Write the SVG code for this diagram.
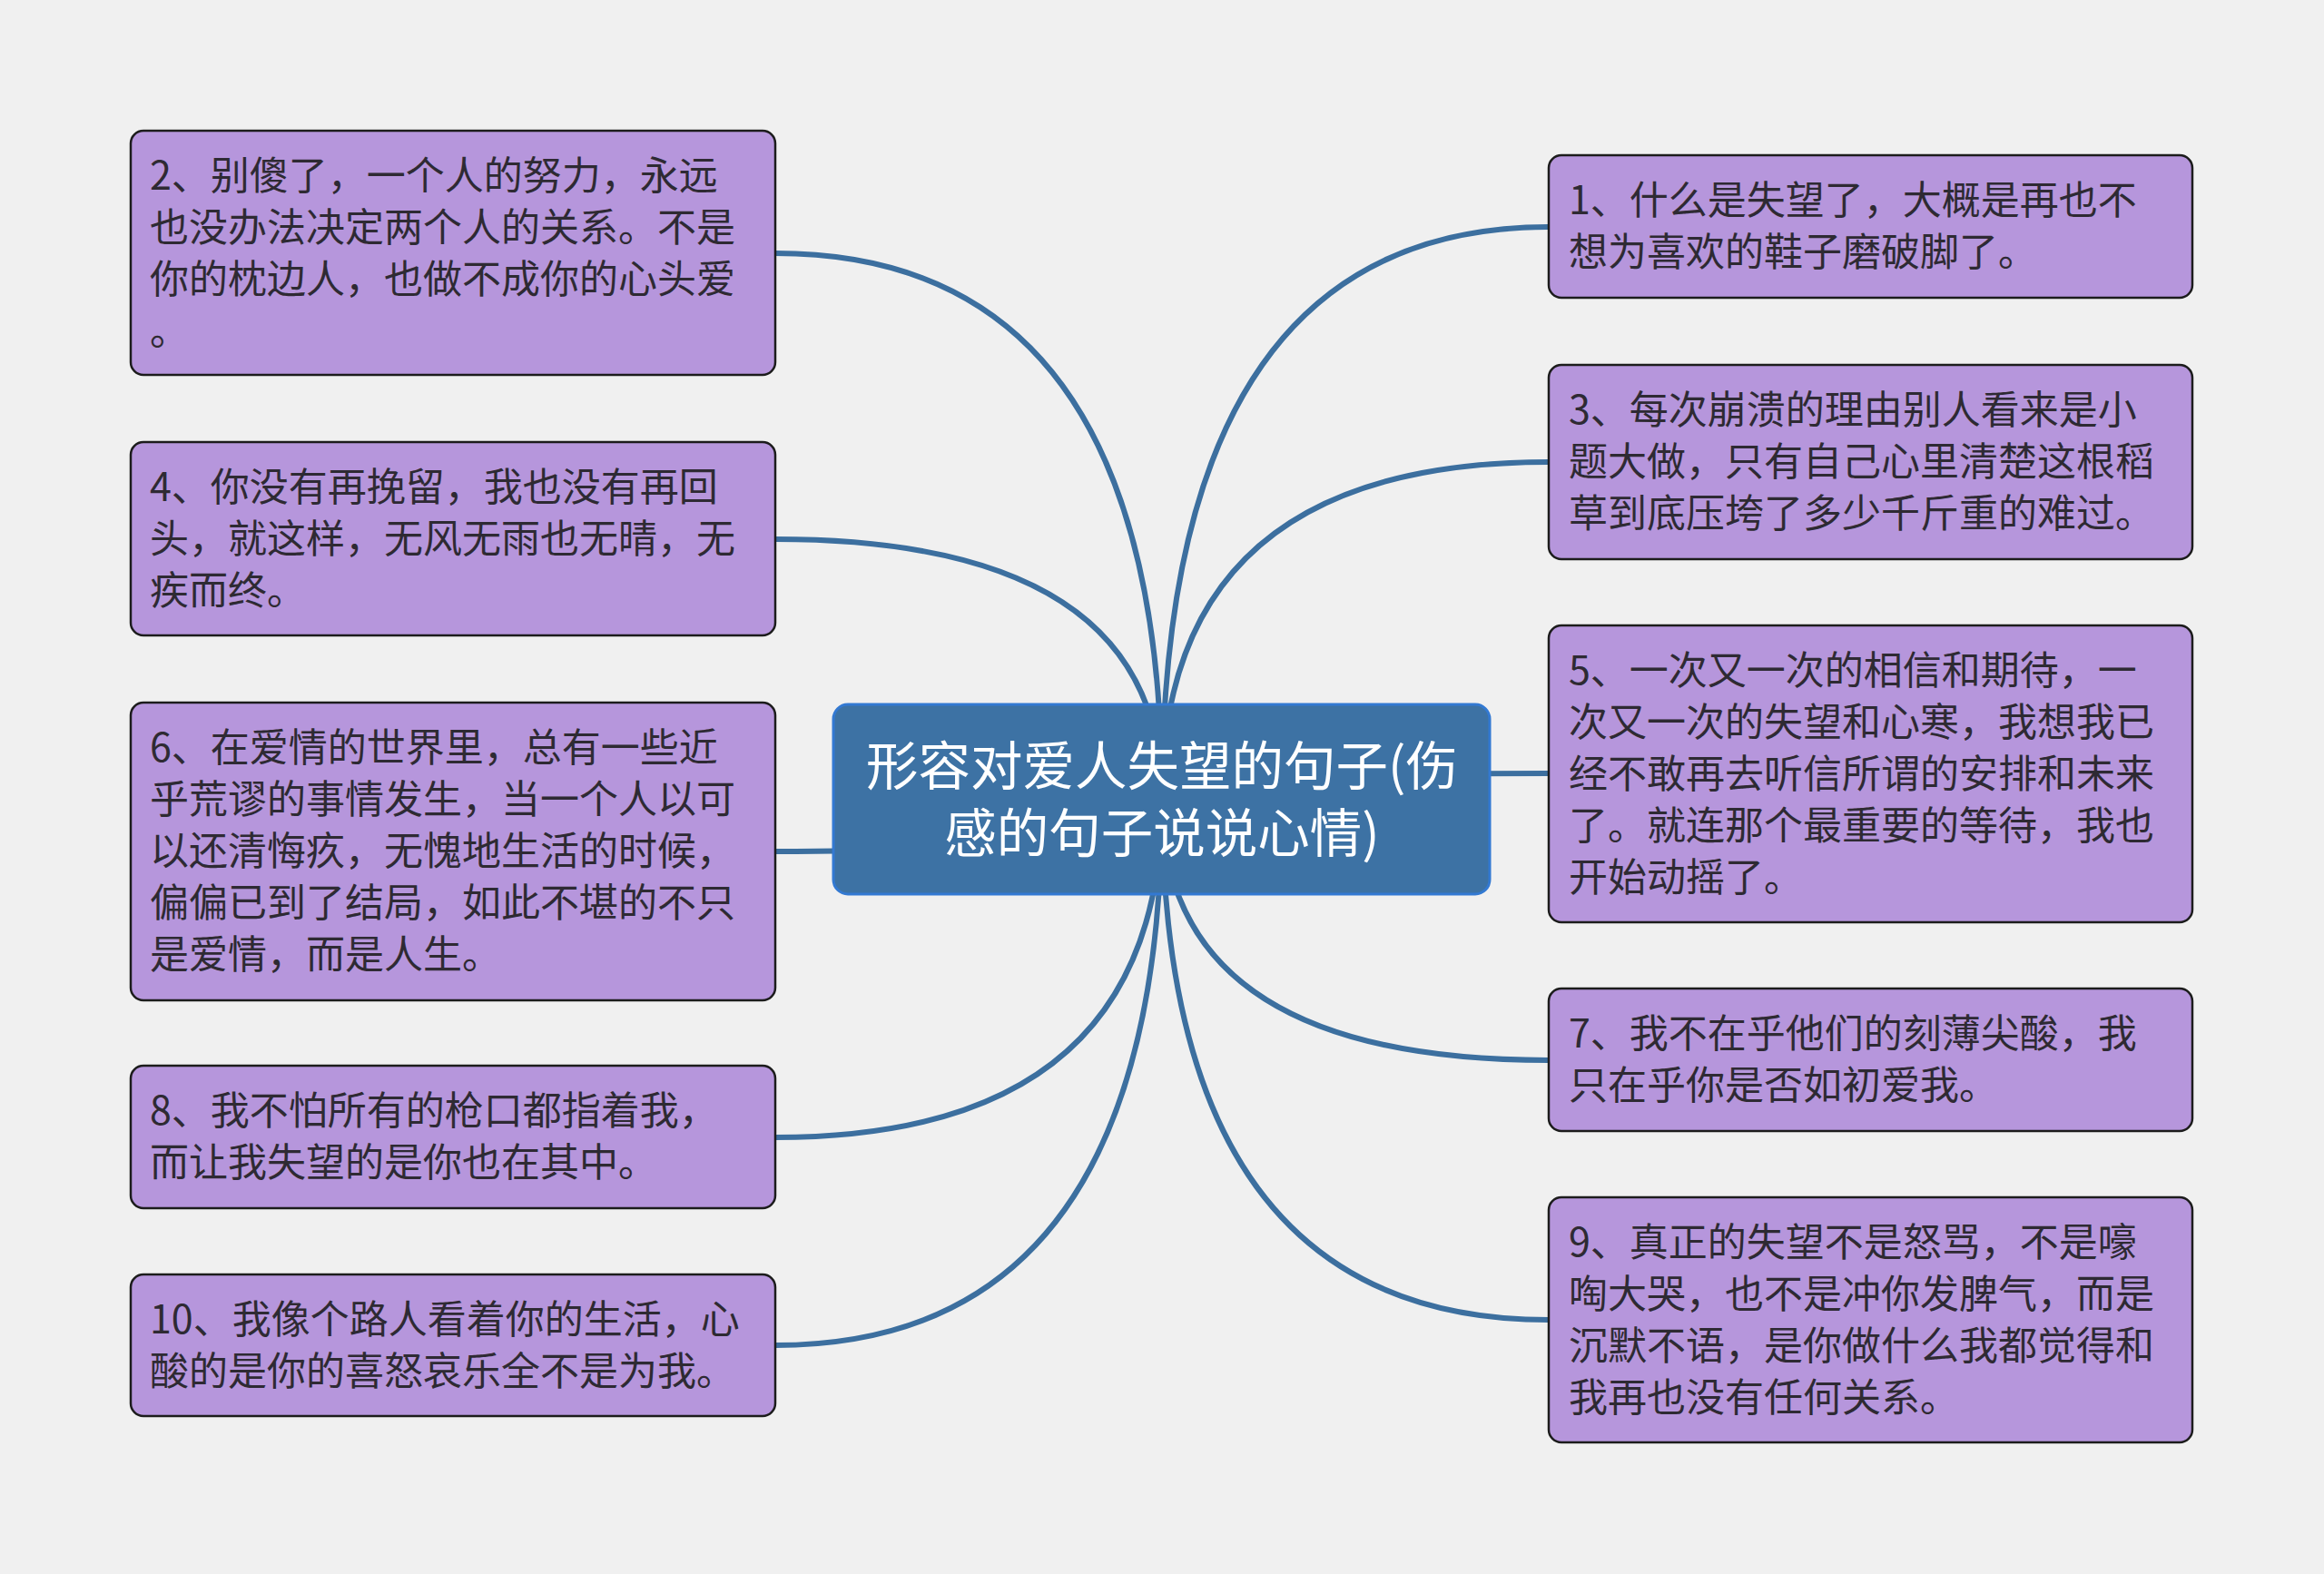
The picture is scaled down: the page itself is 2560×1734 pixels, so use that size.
<svg xmlns="http://www.w3.org/2000/svg" width="2560" height="1734" viewBox="0 0 2560 1734">
<style>
.bg{fill:#f0f0f0}
.node rect{fill:#b696dc;stroke:#1c1c1c;stroke-width:2.5}
.node text{font-family:"Noto Sans CJK SC","Noto Sans",sans-serif;font-size:43px;fill:#2e2a33}
.root rect{fill:#3d72a4;stroke:#3379d2;stroke-width:3}
.root text{font-family:"Noto Sans CJK SC","Noto Sans",sans-serif;font-size:57.5px;fill:#ffffff;text-anchor:middle}
.links path{fill:none;stroke:#3c6f9f;stroke-width:6}
</style>
<rect class="bg" x="0" y="0" width="2560" height="1734"/>
<g class="links">
<path d="M854 279 Q1280 279 1280 880"/>
<path d="M854 594 Q1280 594 1280 880"/>
<path d="M854 938 Q1280 938 1280 880"/>
<path d="M854 1253 Q1280 1253 1280 880"/>
<path d="M854 1482 Q1280 1482 1280 880"/>
<path d="M1706 250 Q1280 250 1280 880"/>
<path d="M1706 509 Q1280 509 1280 880"/>
<path d="M1706 852 Q1280 852 1280 880"/>
<path d="M1706 1168 Q1280 1168 1280 880"/>
<path d="M1706 1454 Q1280 1454 1280 880"/>
</g>
<g id="root" class="root">
<rect x="918" y="776" width="723" height="209" rx="16"/>
<text><tspan x="1280" y="865">形容对爱人失望的句子(伤</tspan><tspan x="1280" y="939">感的句子说说心情)</tspan></text>
</g>
<g id="n2" class="node">
<rect x="144" y="144" width="710" height="269" rx="14"/>
<text><tspan x="165" y="209">2、别傻了，一个人的努力，永远</tspan><tspan x="165" y="266">也没办法决定两个人的关系。不是</tspan><tspan x="165" y="323">你的枕边人，也做不成你的心头爱</tspan><tspan x="165" y="380">。</tspan></text>
</g>
<g id="n4" class="node">
<rect x="144" y="487" width="710" height="213" rx="14"/>
<text><tspan x="165" y="552">4、你没有再挽留，我也没有再回</tspan><tspan x="165" y="609">头，就这样，无风无雨也无晴，无</tspan><tspan x="165" y="666">疾而终。</tspan></text>
</g>
<g id="n6" class="node">
<rect x="144" y="774" width="710" height="328" rx="14"/>
<text><tspan x="165" y="839">6、在爱情的世界里，总有一些近</tspan><tspan x="165" y="896">乎荒谬的事情发生，当一个人以可</tspan><tspan x="165" y="953">以还清悔疚，无愧地生活的时候，</tspan><tspan x="165" y="1010">偏偏已到了结局，如此不堪的不只</tspan><tspan x="165" y="1067">是爱情，而是人生。</tspan></text>
</g>
<g id="n8" class="node">
<rect x="144" y="1174" width="710" height="157" rx="14"/>
<text><tspan x="165" y="1239">8、我不怕所有的枪口都指着我，</tspan><tspan x="165" y="1296">而让我失望的是你也在其中。</tspan></text>
</g>
<g id="n10" class="node">
<rect x="144" y="1404" width="710" height="156" rx="14"/>
<text><tspan x="165" y="1469">10、我像个路人看着你的生活，心</tspan><tspan x="165" y="1526">酸的是你的喜怒哀乐全不是为我。</tspan></text>
</g>
<g id="n1" class="node">
<rect x="1706" y="171" width="709" height="157" rx="14"/>
<text><tspan x="1728" y="236">1、什么是失望了，大概是再也不</tspan><tspan x="1728" y="293">想为喜欢的鞋子磨破脚了。</tspan></text>
</g>
<g id="n3" class="node">
<rect x="1706" y="402" width="709" height="214" rx="14"/>
<text><tspan x="1728" y="467">3、每次崩溃的理由别人看来是小</tspan><tspan x="1728" y="524">题大做，只有自己心里清楚这根稻</tspan><tspan x="1728" y="581">草到底压垮了多少千斤重的难过。</tspan></text>
</g>
<g id="n5" class="node">
<rect x="1706" y="689" width="709" height="327" rx="14"/>
<text><tspan x="1728" y="754">5、一次又一次的相信和期待，一</tspan><tspan x="1728" y="811">次又一次的失望和心寒，我想我已</tspan><tspan x="1728" y="868">经不敢再去听信所谓的安排和未来</tspan><tspan x="1728" y="925">了。就连那个最重要的等待，我也</tspan><tspan x="1728" y="982">开始动摇了。</tspan></text>
</g>
<g id="n7" class="node">
<rect x="1706" y="1089" width="709" height="157" rx="14"/>
<text><tspan x="1728" y="1154">7、我不在乎他们的刻薄尖酸，我</tspan><tspan x="1728" y="1211">只在乎你是否如初爱我。</tspan></text>
</g>
<g id="n9" class="node">
<rect x="1706" y="1319" width="709" height="270" rx="14"/>
<text><tspan x="1728" y="1384">9、真正的失望不是怒骂，不是嚎</tspan><tspan x="1728" y="1441">啕大哭，也不是冲你发脾气，而是</tspan><tspan x="1728" y="1498">沉默不语，是你做什么我都觉得和</tspan><tspan x="1728" y="1555">我再也没有任何关系。</tspan></text>
</g>
</svg>
